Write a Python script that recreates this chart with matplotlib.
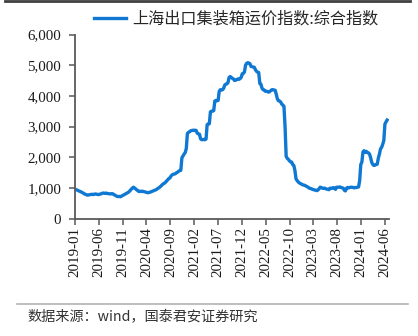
import numpy as np
import pandas as pd
import matplotlib
matplotlib.use('Agg')
import matplotlib.pyplot as plt
import matplotlib.dates as mdates
from matplotlib.lines import Line2D
from matplotlib.ticker import FuncFormatter

# SCFI composite index, weekly (Friday) readings
scfi_2019 = [950, 935, 920, 900,
             885, 870, 850, 830,
             805, 790, 775, 760, 770,
             775, 785, 790, 780,
             790, 800, 795, 785, 780,
             790, 800, 815, 830,
             825, 820, 830, 815,
             810, 805, 800, 810, 805,
             780, 760, 740, 720,
             715, 720, 710, 730,
             750, 770, 790, 810, 830,
             850, 880, 920, 960]
scfi_2020 = [1000, 1020, 990, 960, 930,
             900, 880, 890, 880,
             890, 880, 870, 860,
             850, 840, 850, 860,
             870, 890, 900, 920, 930,
             950, 980, 1000, 1030,
             1060, 1100, 1130, 1150, 1180,
             1220, 1260, 1300, 1320,
             1380, 1420, 1440, 1450,
             1460, 1490, 1510, 1540, 1560,
             1570, 1980, 2040, 2100,
             2150, 2280, 2770, 2810]
scfi_2021 = [2830, 2860, 2870, 2880, 2870,
             2880, 2870, 2780, 2760,
             2750, 2600, 2570, 2570,
             2580, 2570, 2590, 3060, 3080,
             3090, 3480, 3500, 3500,
             3520, 3830, 3850, 3840,
             3850, 4150, 4200, 4190, 4200,
             4240, 4350, 4380, 4390,
             4430, 4600, 4630, 4600,
             4570, 4550, 4500, 4510, 4530,
             4550, 4540, 4560, 4600,
             4720, 4730, 4780, 5000, 5060]
scfi_2022 = [5080, 5070, 5050, 4960,
             4950, 4940, 4930, 4850,
             4800, 4770, 4760, 4400,
             4380, 4250, 4200, 4190, 4150,
             4150, 4140, 4120, 4140,
             4170, 4200, 4200, 4190,
             4180, 4050, 3900, 3840, 3830,
             3800, 3730, 3700, 3660,
             3000, 2030, 1960, 1930, 1880,
             1850, 1840, 1760, 1730,
             1560, 1290, 1240, 1190,
             1160, 1140, 1120, 1100, 1090]
scfi_2023 = [1080, 1060, 1040, 1020,
             990, 980, 970, 950,
             940, 930, 920, 910, 930,
             970, 1020, 1010, 990,
             980, 990, 970, 960,
             950, 940, 990, 980, 990,
             1010, 990, 950, 1020,
             1020, 1020, 1030, 1010,
             1000, 990, 920, 900, 990,
             1010, 1000, 1010, 1020,
             1020, 1010, 1000, 1010,
             1010, 1020, 1030, 1240, 1760]
scfi_2024 = [1840, 2170, 2210, 2160,
             2190, 2150, 2140, 2100,
             1980, 1830, 1760, 1730, 1740,
             1760, 1770, 1970, 2100,
             2270, 2320, 2420, 2540, 3080,
             3150, 3210]

values = scfi_2019 + scfi_2020 + scfi_2021 + scfi_2022 + scfi_2023 + scfi_2024
dates = pd.date_range('2019-01-04', periods=len(values), freq='W-FRI')

tick_dates = pd.date_range('2019-01-01', '2024-06-01', freq='5MS')
y_ticks = [0, 1000, 2000, 3000, 4000, 5000, 6000]

legend_label = '上海出口集装箱运价指数:综合指数'
source_text = '数据来源：wind，国泰君安证券研究'

cjk = ['Noto Sans CJK SC', 'DejaVu Sans']
serif = 'Liberation Serif'
blue = '#0f78d2'
axis_col = '#595959'

fig = plt.figure(figsize=(4.18, 3.36), dpi=100)
ax = fig.add_axes([0.1794, 0.3497, 0.7512, 0.5476])

ax.plot(dates, values, color=blue, lw=2.4, solid_joinstyle='round', label=legend_label)

ax.set_ylim(0, 6000)
ax.set_xlim(pd.Timestamp('2019-01-01'), pd.Timestamp('2024-06-26'))
ax.set_yticks(y_ticks)
ax.yaxis.set_major_formatter(FuncFormatter(lambda v, p: f'{int(v):,}'))
ax.set_xticks(tick_dates)
ax.xaxis.set_major_formatter(mdates.DateFormatter('%Y-%m'))

for lab in ax.get_xticklabels() + ax.get_yticklabels():
    lab.set_fontfamily(serif)
    lab.set_fontsize(10.8)
    lab.set_color('#1a1a1a')
for lab in ax.get_xticklabels():
    lab.set_rotation(90)

ax.tick_params(axis='x', direction='out', length=4, width=1.1, color=axis_col, pad=2)
ax.tick_params(axis='y', direction='out', length=4, width=1.1, color=axis_col, pad=6)

for side in ['top', 'right']:
    ax.spines[side].set_visible(False)
for side in ['left', 'bottom']:
    ax.spines[side].set_color(axis_col)
    ax.spines[side].set_linewidth(1.3)

leg = fig.legend(loc='center', bbox_to_anchor=(0.565, 0.943), frameon=False,
                 handlelength=2.0, handletextpad=0.35,
                 prop={'family': cjk, 'size': 11.6})
for t in leg.get_texts():
    t.set_color('#262626')

# frame rule at the top and separator above the source note
fig.add_artist(Line2D([0.012, 0.982], [0.998, 0.998], transform=fig.transFigure,
                      color='#404040', lw=2.0))
fig.add_artist(Line2D([0.04, 0.976], [0.095, 0.095], transform=fig.transFigure,
                      color='#b3b3b3', lw=1.2))
fig.text(0.065, 0.056, source_text, family=cjk, fontsize=10.2, color='#333333',
         va='center', ha='left')

fig.savefig('out.png', dpi=100)
